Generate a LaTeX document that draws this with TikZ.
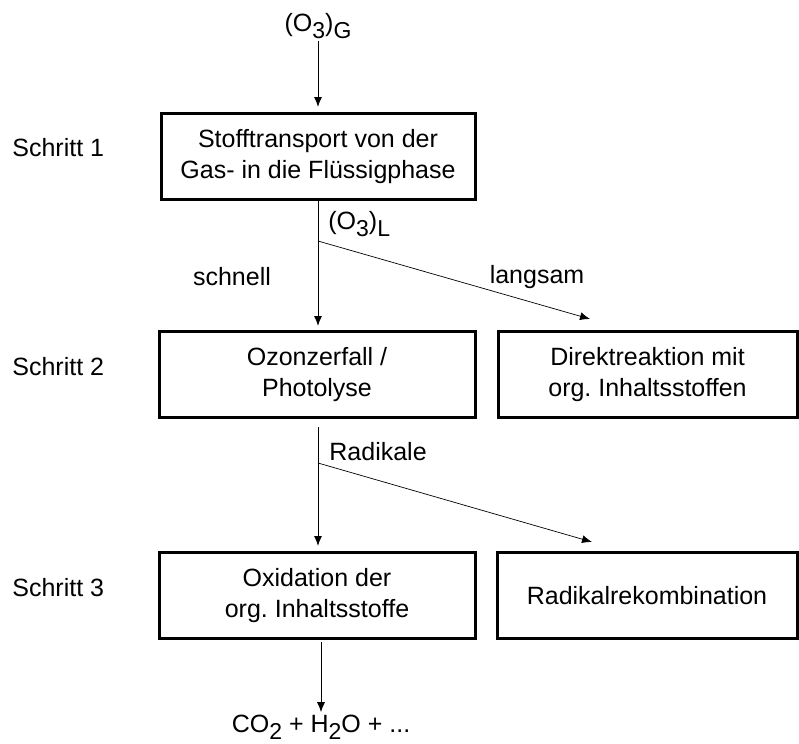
\documentclass[tikz,border=0pt]{standalone}
\usepackage{fontspec}
\setmainfont{Liberation Sans}
\usepackage{tikz}
\usetikzlibrary{positioning, arrows.meta}
\frenchspacing
\newcommand{\lowr}[1]{\raisebox{-0.55ex}{\fontsize{11.5}{11.5}\selectfont #1}}
\tikzset{
  >=latex, % default arrow head
  every node/.style={font=\fontsize{12.5}{15.5}\selectfont},
  stage/.style={draw,line width=1.5pt,align=center,minimum height=43pt,inner sep=2pt},
  note/.style={inner sep=1pt},
  connect arrow/.style={-{Latex[length=5pt,width=4pt]},line width=0.5pt},
  branch arrow/.style={-{Latex[length=5pt,width=4pt]},line width=0.35pt}
}

\begin{document}
\begin{tikzpicture}[x=0.5pt,y=-0.5pt]
  \useasboundingbox (0,0) rectangle (799,744);

  % Boxes
  \node[stage,minimum width=157pt] (transport) at (318,156.5) {Stofftransport von der\\Gas- in die Flüssigphase};
  \node[stage,minimum width=158pt] (zerfall) at (317,374.5) {Ozonzerfall /\\Photolyse};
  \node[stage,minimum width=149.5pt] (direkt) at (647.5,374.5) {Direktreaktion mit\\org. Inhaltsstoffen};
  \node[stage,minimum width=158pt] (oxid) at (317,595.5) {Oxidation der\\org. Inhaltsstoffe};
  \node[stage,minimum width=150pt] (rekomb) at (647,595.5) {Radikalrekombination};

  % Step labels
  \node[note,anchor=west] (s1) at (10,148) {Schritt 1};
  \node[note,anchor=west] (s2) at (10,367) {Schritt 2};
  \node[note,anchor=west] (s3) at (10,588) {Schritt 3};

  % Species
  \node[note] (o3g) at (318,26) {(O\lowr{3})\lowr{G}};
  \node[note] (prod) at (321,727) {CO\lowr{2} + H\lowr{2}O + ...};

  % Fork points and arrow ends
  \coordinate (fork1) at (318,241);
  \coordinate (tip1) at (590,319);
  \coordinate (fork2) at (318,463);
  \coordinate (tip2) at (592,542);

  % Arrows
  \draw[connect arrow,shorten >=2.5pt] (o3g) -- (transport);
  \draw[connect arrow,shorten >=2pt] (transport.south -| fork1) -- (zerfall.north -| fork1);
  \draw[branch arrow] (fork1) -- (tip1);
  \draw[connect arrow,shorten <=4pt,shorten >=2.5pt] (zerfall.south -| fork2) -- (oxid.north -| fork2);
  \draw[branch arrow] (fork2) -- (tip2);
  \draw[connect arrow,shorten <=1pt] (oxid.south -| prod) -- (prod);

  % Arrow labels
  \node[note,anchor=west] (o3l) at (326,224) {(O\lowr{3})\lowr{L}};
  \node[note] (schnell) at (232,277) {schnell};
  \node[note] (langsam) at (537,277) {langsam};
  \node[note,anchor=west] (radikale) at (327,452) {Radikale};

\end{tikzpicture}
\end{document}
